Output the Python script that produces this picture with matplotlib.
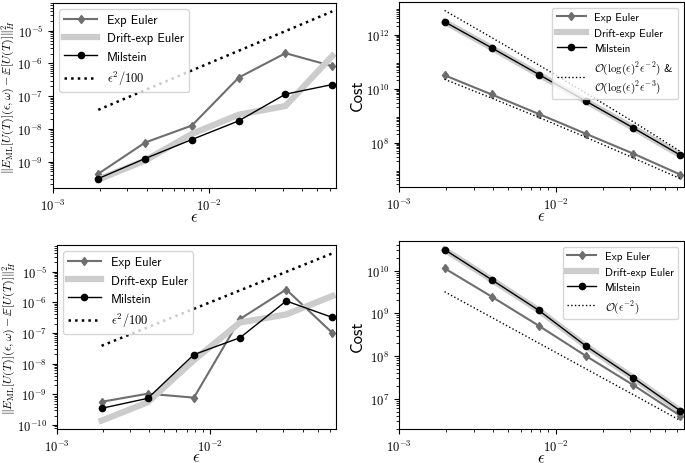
import matplotlib
matplotlib.use("Agg")
import matplotlib.pyplot as plt
from matplotlib.ticker import FuncFormatter, NullFormatter, LogLocator
import numpy as np

plt.rcParams['mathtext.fontset'] = 'cm'
plt.rcParams['font.family'] = ['cmss10', 'DejaVu Sans']
plt.rcParams['axes.unicode_minus'] = False

eps = [0.001953125, 0.00390625, 0.0078125, 0.015625, 0.03125, 0.0625]

# top row: error and cost, first test case
err1_exp = [4.2e-10, 3.8e-9, 1.26e-8, 3.7e-7, 2.06e-6, 8.3e-7]
err1_drift = [2.8e-10, 1.07e-9, 7.0e-9, 2.7e-8, 5.0e-8, 1.7e-6]
err1_mil = [3.0e-10, 1.23e-9, 4.7e-9, 1.75e-8, 1.15e-7, 2.26e-7]
err_ref = [3.81e-8, 1.53e-7, 6.1e-7, 2.44e-6, 9.77e-6, 3.91e-5]

cost1_exp = [3.1e10, 6.0e9, 1.14e9, 2.1e8, 3.9e7, 6.5e6]
cost1_drift = [2.96e12, 3.2e11, 3.3e10, 3.4e9, 3.5e8, 3.4e7]
cost1_mil = [2.96e12, 3.2e11, 3.3e10, 3.4e9, 3.5e8, 3.4e7]
cost1_ref_lo = [2.2e10, 4.4e9, 8.5e8, 1.56e8, 2.7e7, 4.6e6]
cost1_ref_hi = [7.8e12, 7.7e11, 7.4e10, 6.8e9, 5.9e8, 4.7e7]

# bottom row: error and cost, second test case
err2_exp = [5.7e-10, 1.05e-9, 7.8e-10, 2.85e-7, 2.6e-6, 1.0e-7]
err2_drift = [1.39e-10, 5.5e-10, 1.3e-8, 2.2e-7, 4.0e-7, 1.6e-6]
err2_mil = [3.5e-10, 7.4e-10, 1.97e-8, 7.0e-8, 1.1e-6, 3.2e-7]

cost2_exp = [1.13e10, 2.45e9, 5.1e8, 1.0e8, 2.1e7, 4.0e6]
cost2_drift = [3.1e10, 6.1e9, 1.17e9, 1.71e8, 3.1e7, 5.2e6]
cost2_mil = [3.1e10, 6.1e9, 1.17e9, 1.71e8, 3.1e7, 5.2e6]
cost2_ref = [3.2e9, 8.0e8, 2.0e8, 5.0e7, 1.25e7, 3.1e6]

exp_c = '#6e6e6e'
drift_c = '#cccccc'
ms = 4.5
errlabel = r'$\|E_{\mathrm{ML}}[U(T)](\epsilon,\omega) - \mathbb{E}[U(T)]\|_H^2$'


def pow10(v, pos):
    return r'$10^{%d}$' % int(round(np.log10(v)))


fig = plt.figure(figsize=(6.85, 4.64), dpi=100)
ax1 = fig.add_axes([0.0774, 0.5927, 0.4131, 0.3987])
ax2 = fig.add_axes([0.5825, 0.5948, 0.4160, 0.3987])
ax3 = fig.add_axes([0.0832, 0.0733, 0.4073, 0.3965])
ax4 = fig.add_axes([0.5825, 0.0733, 0.4160, 0.4051])


def style(ax):
    ax.set_xlim(1e-3, 0.066)
    for a in (ax.xaxis, ax.yaxis):
        a.set_major_formatter(FuncFormatter(pow10))
        a.set_minor_formatter(NullFormatter())
    ax.set_xlabel(r'$\epsilon$', fontsize=12)
    ax.xaxis.set_label_coords(0.5, -0.113)
    ax.tick_params(labelsize=9)


def error_panel(ax, e_exp, e_drift, e_mil, labelx):
    ax.loglog(eps, e_exp, color=exp_c, marker='d', markersize=ms, linewidth=1.5, label='Exp Euler')
    ax.loglog(eps, e_drift, color=drift_c, linewidth=4.5, label='Drift-exp Euler')
    ax.loglog(eps, e_mil, color='black', marker='o', markersize=ms, linewidth=1, label='Milstein')
    ax.loglog(eps, err_ref, color='black', linestyle=':', linewidth=1.8, label=r'$\epsilon^2/100$')
    style(ax)
    ax.set_ylabel(errlabel, fontsize=8.6)
    ax.yaxis.set_label_coords(labelx, 0.5)
    ax.legend(loc='upper left', fontsize=9, handlelength=2.6)


def cost_panel(ax, c_exp, c_drift, c_mil, refs, reflabel):
    ax.loglog(eps, c_exp, color=exp_c, marker='d', markersize=ms, linewidth=1.5, label='Exp Euler')
    ax.loglog(eps, c_drift, color=drift_c, linewidth=4.5, label='Drift-exp Euler')
    ax.loglog(eps, c_mil, color='black', marker='o', markersize=ms, linewidth=1, label='Milstein')
    for i, r in enumerate(refs):
        ax.loglog(eps, r, color='black', linestyle=':', linewidth=1,
                  label=reflabel if i == 0 else None)
    style(ax)
    ax.set_ylabel('Cost', fontsize=12)
    ax.yaxis.set_label_coords(-0.12, 0.5)
    ax.legend(loc='upper right', fontsize=8, handlelength=2.6)


error_panel(ax1, err1_exp, err1_drift, err1_mil, -0.126)
cost_panel(ax2, cost1_exp, cost1_drift, cost1_mil, [cost1_ref_lo, cost1_ref_hi],
           r'$\mathcal{O}(\log(\epsilon)^2\epsilon^{-2})$ &' + '\n' + r'$\mathcal{O}(\log(\epsilon)^2\epsilon^{-3})$')
ax2.yaxis.set_major_locator(LogLocator(base=10, numticks=4))
error_panel(ax3, err2_exp, err2_drift, err2_mil, -0.14)
cost_panel(ax4, cost2_exp, cost2_drift, cost2_mil, [cost2_ref], r'$\mathcal{O}(\epsilon^{-2})$')

fig.savefig('out.png', dpi=100)
